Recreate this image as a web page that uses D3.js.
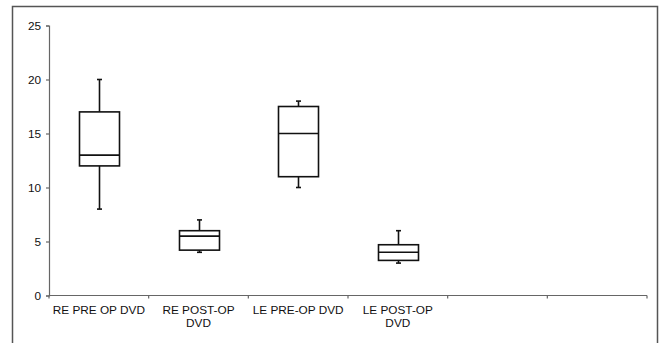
<!DOCTYPE html>
<html><head><meta charset="utf-8">
<script src="https://cdn.jsdelivr.net/npm/d3@7"></script>
<style>body{margin:0;background:#fff;}svg{display:block;font-family:"Liberation Sans",Arial,sans-serif;}</style>
</head><body>
<script>
const categories = [["RE PRE OP DVD"], ["RE POST-OP", "DVD"], ["LE PRE-OP DVD"], ["LE POST-OP", "DVD"], [""], [""]];
const mins    = [8, 4, 10, 3];
const q1s     = [12, 4.2, 11, 3.25];
const medians = [13, 5.5, 15, 4];
const q3s     = [17, 6, 17.5, 4.7];
const maxs    = [20, 7, 18, 6];
const yTicks  = [0, 5, 10, 15, 20, 25];

const W = 659, H = 343;
const svg = d3.select("body").append("svg").attr("width", W).attr("height", H);
// outer frame
svg.append("path").attr("d", `M12.5,${H+2}V6.5H657.5V${H+2}`).attr("fill","none").attr("stroke","#555").attr("stroke-width",1.5);

const x0 = 49, x1 = 647, y0 = 295.5, y1 = 25.5;
const x = d3.scaleBand().domain(d3.range(categories.length)).range([x0, x1]).padding(0);
const y = d3.scaleLinear().domain([0, 25]).range([y0, y1]);

const fs = 11.8;
// y axis
const ya = svg.append("g").attr("transform", `translate(${x0},0)`)
  .call(d3.axisLeft(y).tickValues(yTicks).tickSize(3).tickPadding(5));
ya.selectAll("path,line").attr("stroke","#666").attr("stroke-width",1.2);
ya.selectAll("text").attr("font-size",fs).attr("fill","#111").attr("font-family","Liberation Sans, Arial, sans-serif");

// x axis
const xa = svg.append("g").attr("transform", `translate(0,${y0})`);
xa.append("line").attr("x1", x0).attr("x2", x1).attr("stroke","#666").attr("stroke-width",1.2);
const edges = d3.range(categories.length + 1).map(i => i < categories.length ? x(i) : x1);
xa.selectAll("line.tk").data(edges).join("line").attr("class","tk")
  .attr("x1", d => d).attr("x2", d => d).attr("y1", 0).attr("y2", 3).attr("stroke","#666").attr("stroke-width",1.2);
xa.selectAll("text").data(categories).join("text")
  .attr("x", (d,i) => x(i) + x.bandwidth()/2).attr("y", 18)
  .attr("text-anchor","middle").attr("font-size",fs).attr("fill","#111")
  .selectAll("tspan").data(d => d).join("tspan")
  .attr("x", function(){ return d3.select(this.parentNode).attr("x"); })
  .attr("dy", (d,j) => j === 0 ? 0 : 13).text(d => d);

// boxes
const bw = 40, cw = 5;
const g = svg.append("g").attr("stroke","#111").attr("stroke-width",1.6).attr("fill","none");
medians.forEach((m, i) => {
  const cx = Math.round(x(i) + x.bandwidth()/2) + 0.5;
  g.append("line").attr("x1",cx).attr("x2",cx).attr("y1",y(maxs[i])).attr("y2",y(q3s[i]));
  g.append("line").attr("x1",cx).attr("x2",cx).attr("y1",y(q1s[i])).attr("y2",y(mins[i]));
  g.append("line").attr("x1",cx-cw/2).attr("x2",cx+cw/2).attr("y1",y(maxs[i])).attr("y2",y(maxs[i]));
  g.append("line").attr("x1",cx-cw/2).attr("x2",cx+cw/2).attr("y1",y(mins[i])).attr("y2",y(mins[i]));
  g.append("rect").attr("x",cx-bw/2).attr("width",bw).attr("y",y(q3s[i])).attr("height",y(q1s[i])-y(q3s[i])).attr("fill","#fff");
  g.append("line").attr("x1",cx-bw/2).attr("x2",cx+bw/2).attr("y1",y(m)).attr("y2",y(m));
});
</script>
</body></html>
